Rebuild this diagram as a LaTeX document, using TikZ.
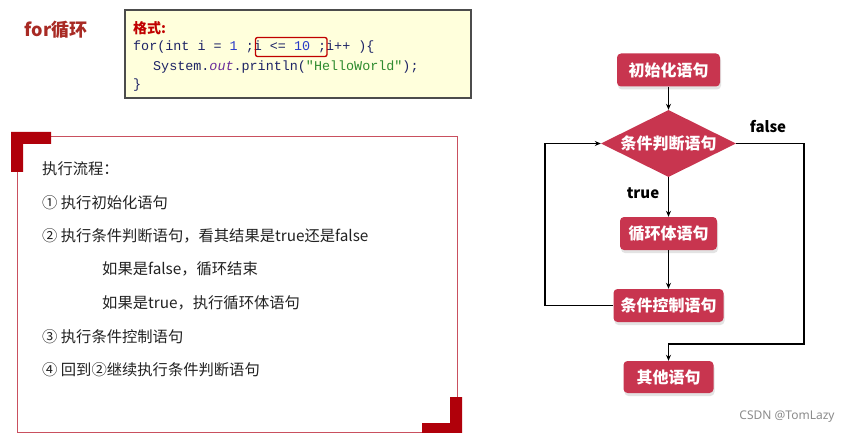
\documentclass[tikz,border=0pt]{standalone}
\usepackage{fontspec}
\setmainfont{Noto Sans CJK SC}
\setmonofont{Liberation Mono}
\newfontfamily\wmfont{Noto Sans}
\usetikzlibrary{shapes.geometric,arrows.meta,shadows}
\definecolor{boxred}{HTML}{C8354F}
\definecolor{titlered}{HTML}{A82A24}
\definecolor{fmtred}{HTML}{C00000}
\definecolor{codefill}{HTML}{FFFFDC}
\definecolor{codeplain}{HTML}{1E2466}
\definecolor{codenum}{HTML}{2A3BC8}
\definecolor{codeout}{HTML}{6A2C9A}
\definecolor{codestr}{HTML}{2E8B2E}
\definecolor{frame}{HTML}{C9505F}
\definecolor{cornerred}{HTML}{B0000A}
\definecolor{bodytext}{HTML}{222222}
\tikzset{
  flowbox/.style={rectangle, rounded corners=4pt, fill=boxred, text=white,
    font=\bfseries\fontsize{16}{16}\selectfont, inner sep=0pt,
    drop shadow={shadow xshift=1pt, shadow yshift=-3pt, fill=black!18, opacity=0.6}},
  flowdia/.style={diamond, aspect=2, fill=boxred, text=white,
    font=\bfseries\fontsize{16}{16}\selectfont, inner sep=0pt},
  arr/.style={line width=1.8pt, -{Stealth[length=6pt,width=5pt]}},
  lbl/.style={font=\bfseries\fontsize{15}{15}\selectfont, text=black},
  codeline/.style={anchor=west, inner sep=0pt, font=\ttfamily\fontsize{13.4}{13.4}\selectfont, text=codeplain},
  steptext/.style={anchor=west, inner sep=0pt, font=\fontsize{15.3}{15.3}\selectfont, text=bodytext}
}
\begin{document}
\begin{tikzpicture}[x=1pt,y=-1pt]
\useasboundingbox (0,0) rectangle (852,433);
\fill[white] (0,0) rectangle (852,433);

% title
\node[inner sep=0pt, text=titlered, font=\bfseries\fontsize{18}{18}\selectfont] (title) at (56,30) {for循环};

% code box
\draw[draw=black!70, line width=1.3pt, fill=codefill] (125,10) rectangle (471,98);
\node[anchor=west, inner sep=0pt, text=fmtred, font=\bfseries\fontsize{14}{14}\selectfont] (fmt) at (133,28) {格式:};
\node[codeline] (c1) at (133,47) {for(int i = \textcolor{codenum}{1} ;i <= \textcolor{codenum}{10} ;i++ )\{};
\node[codeline] (c2) at (153,67) {System.\textcolor{codeout}{\itshape out}.println(\textcolor{codestr}{"HelloWorld"});};
\node[codeline] (c3) at (133,85) {\}};
\draw[draw=fmtred, line width=1.3pt, rounded corners=2pt] (255.5,37.5) rectangle (327,56.5);

% left box
\draw[draw=frame, line width=1pt] (17,137) rectangle (457,432);
\fill[cornerred] (11,132) -- (51,132) -- (51,144) -- (23,144) -- (23,172) -- (11,172) -- cycle;
\fill[cornerred] (462,397) -- (462,433) -- (422,433) -- (422,423) -- (450,423) -- (450,397) -- cycle;

\node[steptext] (s0) at (42,169) {执行流程：};
\node[steptext] (s1) at (42,203) {① 执行初始化语句};
\node[steptext] (s2) at (42,236) {② 执行条件判断语句，看其结果是true还是false};
\node[steptext] (s3) at (102,269) {如果是false，循环结束};
\node[steptext] (s4) at (102,303) {如果是true，执行循环体语句};
\node[steptext] (s5) at (42,337) {③ 执行条件控制语句};
\node[steptext] (s6) at (42,370) {④ 回到②继续执行条件判断语句};

% flowchart
\node[flowbox, minimum width=103pt, minimum height=33pt] (init) at (668.5,70) {初始化语句};
\node[flowdia, minimum width=135pt, minimum height=67pt] (cond) at (668.5,143.5) {条件判断语句};
\node[flowbox, minimum width=97pt, minimum height=33pt] (body) at (668.5,233.5) {循环体语句};
\node[flowbox, minimum width=110pt, minimum height=33pt] (ctrl) at (668.5,305.5) {条件控制语句};
\node[flowbox, minimum width=90pt, minimum height=32pt] (other) at (668.5,377) {其他语句};

\coordinate (falsecorner) at (804,344);
\draw[arr] (init) -- (cond);
\draw[arr] (cond) -- (body);
\draw[arr] (body) -- (ctrl);
\draw[arr] (ctrl.west) -- ++(-68,0) |- (cond.west);
\draw[arr] (cond.east) -| (falsecorner) -| (other.north);

\node[lbl] (lfalse) at (768,127) {false};
\node[lbl] (ltrue) at (643,193) {true};

% watermark
\node[inner sep=0pt, text=black!45, font=\wmfont\fontsize{12}{12}\selectfont] (wm) at (787,417) {CSDN @TomLazy};
\end{tikzpicture}
\end{document}
